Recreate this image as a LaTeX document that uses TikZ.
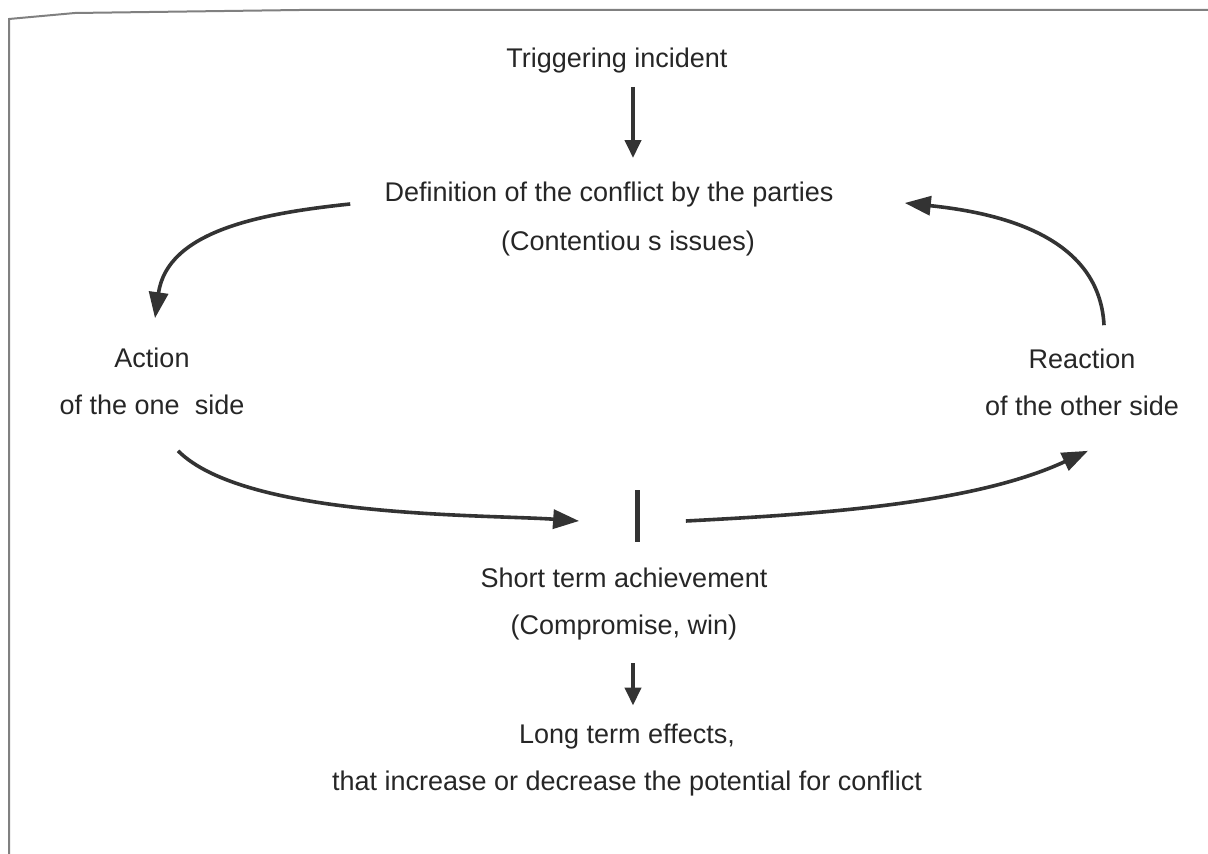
\documentclass[tikz,border=0pt]{standalone}
\usepackage{fontspec}
\setmainfont{Liberation Sans}
\usepackage{tikz}
\usetikzlibrary{arrows.meta, calc, positioning}
\definecolor{myink}{rgb}{0.2, 0.2, 0.2}
\definecolor{myframe}{rgb}{0.5, 0.5, 0.5}
\tikzstyle{arrow} = [line width=2pt, draw=myink, -{Triangle[length=9pt, width=8pt]}]
\tikzstyle{curvearrow} = [line width=1.8pt, draw=myink, -{Triangle[length=13pt, width=9.5pt]}]

\begin{document}
\begin{tikzpicture}[x=0.5pt, y=-0.5pt, label/.style={align=center, inner sep=0pt, text=black!85, font=\fontsize{13.5}{23.5}\selectfont}]
    \useasboundingbox (0,0) rectangle (1208,854);
    % scanned page edge
    \draw[myframe, line width=1pt] (9,854) -- (9,19) -- (75,13) -- (300,10) -- (1208,10);
    \node[label] (trig) at (617,61) {Triggering incident};
    \node[label] (def) at (609,195) {Definition of the conflict by the parties};
    \node[label] (issues) at (628,244) {(Contentiou s issues)};
    \node[label] (act) at (152,381) {Action\\of the one\ \ side};
    \node[label] (react) at (1082,382) {Reaction\\of the other side};
    \node[label] (short) at (624,604) {Short term achievement\\(Compromise, win)};
    \node[label] (long) at (627,760) {Long term effects,\\that increase or decrease the potential for conflict};
    \node[fill=myink, inner sep=0pt, minimum width=2.5pt, minimum height=25.5pt] (bar) at (637,516) {};
    \draw[arrow] ($(trig.south)+(16,13)$) -- ($(def.north)+(24,-24)$);
    \draw[curvearrow] ($(def.west)+(-34,9)$) to[out=186, in=82] ($(act.north)+(3,-29)$);
    \draw[curvearrow] ($(act.south)+(26,36)$) to[out=-45, in=176, looseness=0.6] ($(bar.west)+(-55,5)$);
    \draw[curvearrow] ($(bar.east)+(46,5)$) to[out=3, in=205, looseness=0.8] ($(react.south)+(6,35)$);
    \draw[curvearrow] ($(react.north)+(22,-23)$) to[out=93, in=-6] ($(def.east)+(71,8)$);
    \draw[arrow] ($(short.south)+(9,23)$) -- ($(long.north)+(6,-18)$);
\end{tikzpicture}
\end{document}
